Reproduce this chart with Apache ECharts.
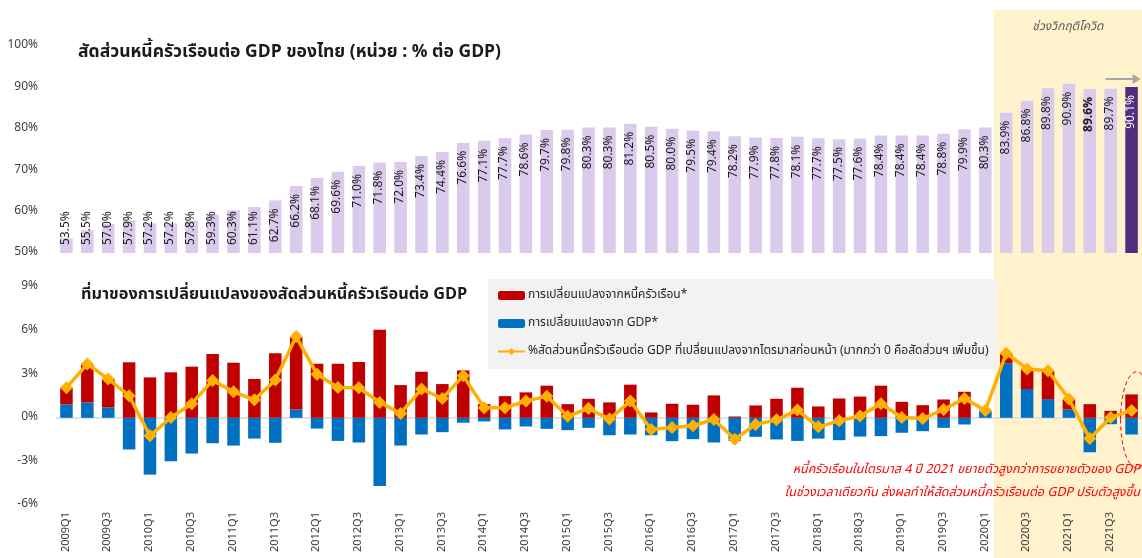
<!DOCTYPE html>
<html>
<head>
<meta charset="utf-8">
<script src="https://cdn.jsdelivr.net/npm/echarts@6/dist/echarts.min.js"></script>
<style>
html,body{margin:0;padding:0;background:#fff;}
#c{width:1142px;height:558px;}
</style>
</head>
<body>
<div id="c"></div>
<script>
var categories = ['2009Q1','2009Q2','2009Q3','2009Q4','2010Q1','2010Q2','2010Q3','2010Q4',
'2011Q1','2011Q2','2011Q3','2011Q4','2012Q1','2012Q2','2012Q3','2012Q4',
'2013Q1','2013Q2','2013Q3','2013Q4','2014Q1','2014Q2','2014Q3','2014Q4',
'2015Q1','2015Q2','2015Q3','2015Q4','2016Q1','2016Q2','2016Q3','2016Q4',
'2017Q1','2017Q2','2017Q3','2017Q4','2018Q1','2018Q2','2018Q3','2018Q4',
'2019Q1','2019Q2','2019Q3','2019Q4','2020Q1','2020Q2','2020Q3','2020Q4',
'2021Q1','2021Q2','2021Q3','2021Q4'];

var debtToGdp = [53.5,55.5,57.0,57.9,57.2,57.2,57.8,59.3,60.3,61.1,62.7,66.2,68.1,69.6,71.0,71.8,
72.0,73.4,74.4,76.6,77.1,77.7,78.6,79.7,79.8,80.3,80.3,81.2,80.5,80.0,79.5,79.4,
78.2,77.9,77.8,78.1,77.7,77.5,77.6,78.4,78.4,78.4,78.8,79.9,80.3,83.9,86.8,89.8,
90.9,89.6,89.7,90.1];

var debtChange = [1.15,2.57,2.0,3.82,2.78,3.13,3.52,4.39,3.79,2.67,4.44,4.97,3.72,3.72,3.84,6.05,
2.25,3.17,2.32,3.26,0.94,1.49,1.75,2.21,0.94,1.31,1.06,2.28,0.37,0.97,0.90,1.54,
0.09,0.85,1.31,2.07,0.78,1.33,1.46,2.21,1.10,0.87,1.26,1.79,0.03,0.62,1.35,1.95,
0.69,0.94,0.48,1.61];

var gdpChange = [0.92,1.06,0.71,-2.18,-3.91,-2.99,-2.46,-1.75,-1.91,-1.43,-1.72,0.57,-0.74,-1.59,-1.70,-4.69,
-1.91,-1.15,-0.99,-0.34,-0.25,-0.80,-0.60,-0.76,-0.85,-0.69,-1.20,-1.15,-1.20,-1.61,-1.47,-1.70,
-1.59,-1.31,-1.49,-1.59,-1.43,-1.54,-1.29,-1.26,-1.03,-0.92,-0.69,-0.46,0.46,3.75,1.98,1.29,
0.57,-2.37,-0.44,-1.15];

var ratioChange = [2.07,3.70,2.67,1.52,-1.24,0.02,0.97,2.57,1.79,1.24,2.60,5.59,2.99,2.09,2.07,1.06,
0.30,1.98,1.33,2.90,0.69,0.69,1.15,1.49,0.11,0.64,-0.09,1.15,-0.80,-0.67,-0.55,-0.11,
-1.47,-0.46,-0.14,0.53,-0.62,-0.21,0.12,0.97,0.02,-0.05,0.57,1.33,0.51,4.44,3.36,3.24,
1.29,-1.43,0.02,0.51];

var topYTicks = [50,60,70,80,90,100];
var bottomYTicks = [-6,-3,0,3,6,9];

var nameDebt = 'การเปลี่ยนแปลงจากหนี้ครัวเรือน*';
var nameGdp = 'การเปลี่ยนแปลงจาก GDP*';
var nameLine = '%สัดส่วนหนี้ครัวเรือนต่อ GDP ที่เปลี่ยนแปลงจากไตรมาสก่อนหน้า (มากกว่า 0 คือสัดส่วนฯ เพิ่มขึ้น)';
var titleTop = 'สัดส่วนหนี้ครัวเรือนต่อ GDP ของไทย (หน่วย : % ต่อ GDP)';
var titleBottom = 'ที่มาของการเปลี่ยนแปลงของสัดส่วนหนี้ครัวเรือนต่อ GDP';
var covidLabel = 'ช่วงวิกฤติโควิด';
var note1 = 'หนี้ครัวเรือนในไตรมาส 4 ปี 2021 ขยายตัวสูงกว่าการขยายตัวของ GDP';
var note2 = 'ในช่วงเวลาเดียวกัน ส่งผลทำให้สัดส่วนหนี้ครัวเรือนต่อ GDP ปรับตัวสูงขึ้น';

var FONT = "'Noto Sans Thai','Tahoma','Noto Sans','DejaVu Sans',sans-serif";
var lastIdx = debtToGdp.length - 1;
var boldIdx = 49;

var topData = debtToGdp.map(function (v, i) {
  var tall = (v - topYTicks[0]) >= 12;
  return {
    value: v,
    itemStyle: i === lastIdx ? { color: '#502D7F' } : undefined,
    label: {
      position: tall ? 'insideTop' : 'insideBottom',
      align: tall ? 'right' : 'left',
      color: i === lastIdx ? '#ffffff' : '#1a1a1a',
      fontWeight: i === boldIdx ? 'bold' : 'normal'
    }
  };
});

var chart = echarts.init(document.getElementById('c'), null, { renderer: 'canvas' });

var option = {
  animation: false,
  backgroundColor: '#ffffff',
  textStyle: { fontFamily: FONT },
  title: [
    { text: titleTop, left: 73, top: 39, textStyle: { fontSize: 17.5, fontWeight: 'bold', color: '#1a1a1a', fontFamily: FONT } },
    { text: titleBottom, left: 76, top: 283, textStyle: { fontSize: 16.3, fontWeight: 'bold', color: '#1a1a1a', fontFamily: FONT } }
  ],
  legend: {
    orient: 'vertical',
    left: 488,
    top: 279,
    backgroundColor: '#F2F2F2',
    padding: [8, 8, 9, 9],
    itemWidth: 27,
    itemHeight: 9,
    itemGap: 11,
    data: [nameDebt, nameGdp, nameLine],
    textStyle: { fontSize: 12, lineHeight: 17, color: '#262626', fontFamily: FONT, padding: [0, 0, 0, -2] }
  },
  grid: [
    { left: 56, width: 1087, top: 46, height: 207 },
    { left: 56, width: 1087, top: 287, height: 218 }
  ],
  xAxis: [
    { type: 'category', gridIndex: 0, data: categories, axisLine: { show: false }, axisTick: { show: false }, axisLabel: { show: false } },
    { type: 'category', gridIndex: 1, data: categories,
      axisLine: { show: false, onZero: false }, axisTick: { show: false },
      axisLabel: { interval: 1, rotate: 90, margin: 7, fontSize: 11, color: '#404040', fontFamily: FONT } }
  ],
  yAxis: [
    { type: 'value', gridIndex: 0, min: topYTicks[0], max: topYTicks[topYTicks.length - 1], interval: 10,
      splitLine: { show: false }, axisLine: { show: false }, axisTick: { show: false },
      axisLabel: { formatter: '{value}%', fontSize: 12, color: '#404040', margin: 18, fontFamily: FONT } },
    { type: 'value', gridIndex: 1, min: bottomYTicks[0], max: bottomYTicks[bottomYTicks.length - 1], interval: 3,
      splitLine: { show: false }, axisLine: { show: false }, axisTick: { show: false },
      axisLabel: { formatter: '{value}%', fontSize: 12, color: '#404040', margin: 18, fontFamily: FONT } }
  ],
  series: [
    {
      name: 'ratio', type: 'bar', xAxisIndex: 0, yAxisIndex: 0, data: topData,
      barWidth: '60%', itemStyle: { color: '#DACBEC' },
      label: {
        show: true, rotate: 90, distance: 8, verticalAlign: 'middle',
        formatter: function (p) { return p.value.toFixed(1) + '%'; },
        fontSize: 12, fontFamily: FONT
      },
      z: 3
    },
    {
      name: nameGdp, type: 'bar', xAxisIndex: 1, yAxisIndex: 1, data: gdpChange, stack: 'chg',
      barWidth: '60%', itemStyle: { color: '#0070C0' }, z: 3
    },
    {
      name: nameDebt, type: 'bar', xAxisIndex: 1, yAxisIndex: 1, data: debtChange, stack: 'chg',
      barWidth: '60%', itemStyle: { color: '#C00000' }, z: 3
    },
    {
      name: nameLine, type: 'line', xAxisIndex: 1, yAxisIndex: 1, data: ratioChange,
      symbol: 'diamond', symbolSize: 13, showAllSymbol: true,
      lineStyle: { color: '#FFB000', width: 3.5 }, itemStyle: { color: '#FFB000' },
      z: 5,
      markLine: {
        silent: true, symbol: 'none', label: { show: false },
        lineStyle: { color: '#D9D9D9', type: 'solid', width: 1.5 },
        data: [{ yAxis: 0 }], z: 2
      }
    }
  ]
};

chart.setOption(option);

// Decorations derived from axis positions
var x2020Q1 = chart.convertToPixel({ xAxisIndex: 0 }, '2020Q1');
var x2020Q2 = chart.convertToPixel({ xAxisIndex: 0 }, '2020Q2');
var xLast = chart.convertToPixel({ xAxisIndex: 1 }, categories[lastIdx]);
var yZero = chart.convertToPixel({ yAxisIndex: 1 }, 0);
var bandX = (x2020Q1 + x2020Q2) / 2 - 2;

chart.setOption({
  graphic: [
    { type: 'rect', z: -10, silent: true, shape: { x: bandX, y: 10, width: 1142 - bandX, height: 548 }, style: { fill: '#FFF2CC' } },
    { type: 'text', z: 10, silent: true, x: (bandX + 1142) / 2, y: 28,
      style: { text: covidLabel, fill: '#595959', fontSize: 12, fontStyle: 'italic', fontFamily: FONT, align: 'center', verticalAlign: 'middle' } },
    { type: 'line', z: 10, silent: true, shape: { x1: xLast - 26, y1: 79, x2: xLast + 2, y2: 79 }, style: { stroke: '#A6A6A6', lineWidth: 2 } },
    { type: 'polygon', z: 10, silent: true, shape: { points: [[xLast + 1, 74], [xLast + 9, 79], [xLast + 1, 84]] }, style: { fill: '#A6A6A6' } },
    { type: 'ellipse', z: 10, silent: true, shape: { cx: xLast + 5, cy: yZero + 2, rx: 16, ry: 48 },
      style: { fill: 'none', stroke: '#FF0000', lineWidth: 1, lineDash: [4, 3] } },
    { type: 'text', z: 10, silent: true, x: 1140, y: 470,
      style: { text: note1, fill: '#FF0000', fontSize: 12.5, fontStyle: 'italic', fontFamily: FONT, align: 'right', verticalAlign: 'middle' } },
    { type: 'text', z: 10, silent: true, x: 1140, y: 493,
      style: { text: note2, fill: '#FF0000', fontSize: 12.5, fontStyle: 'italic', fontFamily: FONT, align: 'right', verticalAlign: 'middle' } }
  ]
});
</script>
</body>
</html>
